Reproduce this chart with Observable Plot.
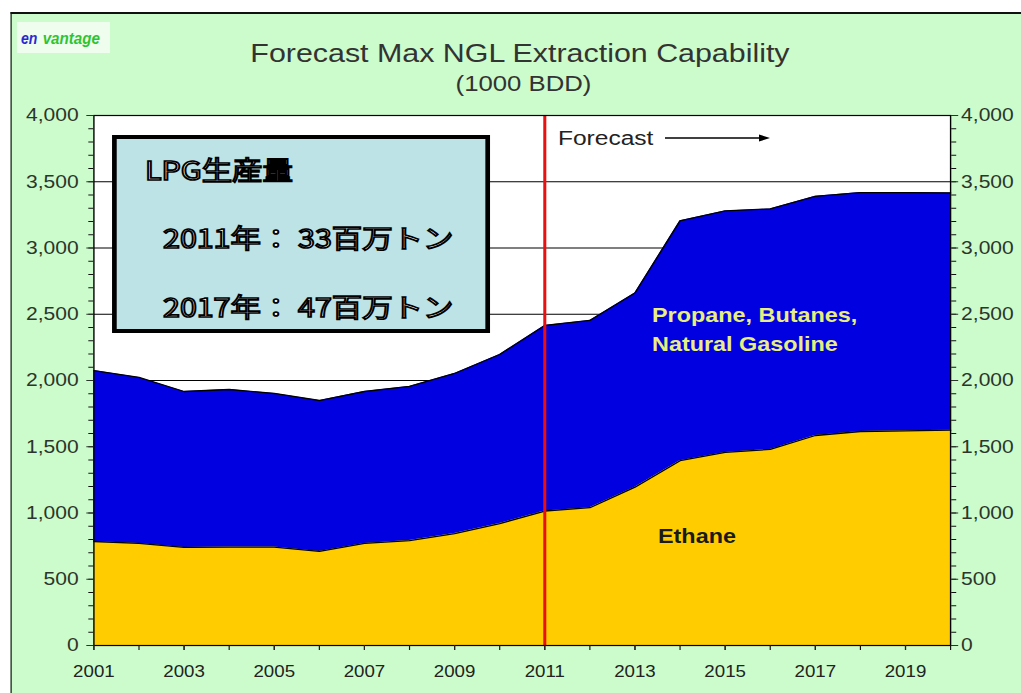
<!DOCTYPE html>
<html><head><meta charset="utf-8">
<script src="https://cdn.jsdelivr.net/npm/d3@7"></script>
<script src="https://cdn.jsdelivr.net/npm/@observablehq/plot@0.6"></script>
<style>
html,body{margin:0;padding:0;background:#fff;overflow:hidden;width:1021px;height:693px;}
#wrap{position:absolute;left:0;top:0;width:873px;height:693px;transform:scaleX(1.16953);transform-origin:0 0;}
#bg{position:absolute;left:8.5px;top:12px;width:1000px;height:800px;background:#ccfccc;border-left:1.8px solid #111;border-top:2px solid #111;}
#chart{position:absolute;left:0;top:0;}
#over{position:absolute;left:0;top:0;pointer-events:none;}
</style></head><body>
<div id="wrap"><div id="bg"></div><div id="chart"></div><svg id="over" width="873" height="693"></svg></div>
<script>
// ---- data ----
const years  = [2001, 2002, 2003, 2004, 2005, 2006, 2007, 2008, 2009, 2010, 2011, 2012, 2013, 2014, 2015, 2016, 2017, 2018, 2019, 2020];
const ethane = [ 785,  770,  740,  743,  743,  710,  770,  792,  845,  920, 1015, 1040, 1195, 1395, 1457, 1480, 1585, 1615, 1620, 1625];
const total  = [2075, 2023, 1917, 1932, 1902, 1849, 1917, 1955, 2053, 2196, 2415, 2453, 2660, 3205, 3280, 3295, 3390, 3418, 3418, 3415];
const yMajorTicks = [0, 500, 1000, 1500, 2000, 2500, 3000, 3500, 4000];
const gridLines = [500, 1000, 1500, 2000, 2500, 3000, 3500];
const xLabelYears = [2001, 2003, 2005, 2007, 2009, 2011, 2013, 2015, 2017, 2019];
const forecastStart = [2011];
const titleText = "Forecast Max NGL Extraction Capability";
const subtitleText = "(1000 BDD)";
const boxLines = ["LPG生産量", "2011年： 33百万トン", "2017年： 47百万トン"];
const seriesLabels = ["Propane, Butanes,", "Natural Gasoline", "Ethane"];

const data = years.map((year, i) => ({year, ethane: ethane[i], total: total[i]}));
const yMinorTicks = d3.range(0, 4001, 100);

const plot = Plot.plot({
  width: 873, height: 693,
  marginLeft: 79.8, marginRight: 60.7, marginTop: 115, marginBottom: 48,
  x: {domain: [2001, 2020], axis: null},
  y: {domain: [0, 4000], axis: null},
  style: {background: "transparent", fontFamily: "'Liberation Sans', Arial, sans-serif", color: "#000", overflow: "visible"},
  marks: [
    Plot.frame({fill: "#ffffff"}),
    Plot.ruleY(gridLines, {stroke: "#000", strokeWidth: 1.2}),
    Plot.areaY(data, {x: "year", y: "ethane", fill: "#ffcc00"}),
    Plot.areaY(data, {x: "year", y1: "ethane", y2: "total", fill: "#0000e0"}),
    Plot.lineY(data, {x: "year", y: "total", stroke: "#000", strokeWidth: 1.3}),
    Plot.lineY(data, {x: "year", y: "ethane", stroke: "#000", strokeWidth: 1.3}),
    Plot.ruleX(forecastStart, {stroke: "#e81010", strokeWidth: 2.6}),
    Plot.frame({stroke: "#000", strokeWidth: 1.2}),
    Plot.axisY(yMinorTicks, {anchor: "left", label: null, tickSize: 4.3, tickFormat: () => "", color: "#111"}),
    Plot.axisY(yMajorTicks, {anchor: "left", label: null, tickSize: 6, tickPadding: 7, tickFormat: d3.format(","), fontSize: 18, color: "#2b352b"}),
    Plot.axisY(yMinorTicks, {anchor: "right", label: null, tickSize: 4.3, tickFormat: () => "", color: "#111"}),
    Plot.axisY(yMajorTicks, {anchor: "right", label: null, tickSize: 6, tickPadding: 3, tickFormat: d3.format(","), fontSize: 18, color: "#2b352b"}),
    Plot.axisX(years, {anchor: "bottom", label: null, tickSize: 5, tickFormat: () => "", color: "#111"}),
    Plot.axisX(xLabelYears, {anchor: "bottom", label: null, tickSize: 5, tickPadding: 15, tickFormat: d => String(d), fontSize: 16, color: "#222"})
  ]
});
document.getElementById("chart").appendChild(plot);

// ---- annotations ----
const ov = d3.select("#over");
const sans = "'Liberation Sans', Arial, sans-serif";
// logo
ov.append("rect").attr("x", 14.5).attr("y", 22).attr("width", 79.5).attr("height", 31).attr("fill", "#effdef");
ov.append("text").attr("x", 18).attr("y", 44).attr("font-family", sans)
  .attr("font-size", 17).attr("font-weight", "bold").attr("font-style", "italic")
  .attr("textLength", 14).attr("lengthAdjust", "spacingAndGlyphs")
  .attr("fill", "#2a2ad0").text("en");
ov.append("text").attr("x", 36.5).attr("y", 44).attr("font-family", sans)
  .attr("font-size", 17).attr("font-weight", "bold").attr("font-style", "italic")
  .attr("textLength", 49).attr("lengthAdjust", "spacingAndGlyphs")
  .attr("fill", "#2fc42f").text("vantage");
// title
ov.append("text").attr("x", 444.6).attr("y", 62).attr("text-anchor", "middle").attr("font-family", sans)
  .attr("font-size", 26).attr("fill", "#333").text(titleText);
ov.append("text").attr("x", 447.6).attr("y", 91).attr("text-anchor", "middle").attr("font-family", sans)
  .attr("font-size", 22).attr("fill", "#333").text(subtitleText);
// LPG box
ov.append("rect").attr("x", 97.8).attr("y", 137).attr("width", 319.2).attr("height", 194)
  .attr("fill", "#bde3e6").attr("stroke", "#000").attr("stroke-width", 4);
const jp = "'Noto Sans CJK JP', 'Noto Sans CJK SC', sans-serif";
[[124, 180], [139.4, 248], [139.4, 317]].forEach(([x, y], i) => {
  ov.append("text").attr("x", x).attr("y", y).attr("font-family", jp).attr("font-size", 26)
    .attr("font-weight", "normal").attr("fill", "#fff").attr("stroke", "#000").attr("stroke-width", 1.7)
    .text(boxLines[i]);
});
// forecast
ov.append("text").attr("x", 477.1).attr("y", 145).attr("font-family", sans).attr("font-size", 21)
  .attr("fill", "#222").text("Forecast");
ov.append("line").attr("x1", 568.6).attr("x2", 652).attr("y1", 138).attr("y2", 138)
  .attr("stroke", "#000").attr("stroke-width", 1.6);
ov.append("polygon").attr("points", "658.4,138 649,134.5 649,141.5").attr("fill", "#000");
// series labels
ov.append("text").attr("x", 557.5).attr("y", 322).attr("font-family", sans).attr("font-size", 20)
  .attr("font-weight", "bold").attr("fill", "#e8ee80").text(seriesLabels[0]);
ov.append("text").attr("x", 557.5).attr("y", 351).attr("font-family", sans).attr("font-size", 20)
  .attr("font-weight", "bold").attr("fill", "#e8ee80").text(seriesLabels[1]);
ov.append("text").attr("x", 562.6).attr("y", 543).attr("font-family", sans).attr("font-size", 20)
  .attr("font-weight", "bold").attr("fill", "#1a1a1a").text(seriesLabels[2]);
</script>
</body></html>
